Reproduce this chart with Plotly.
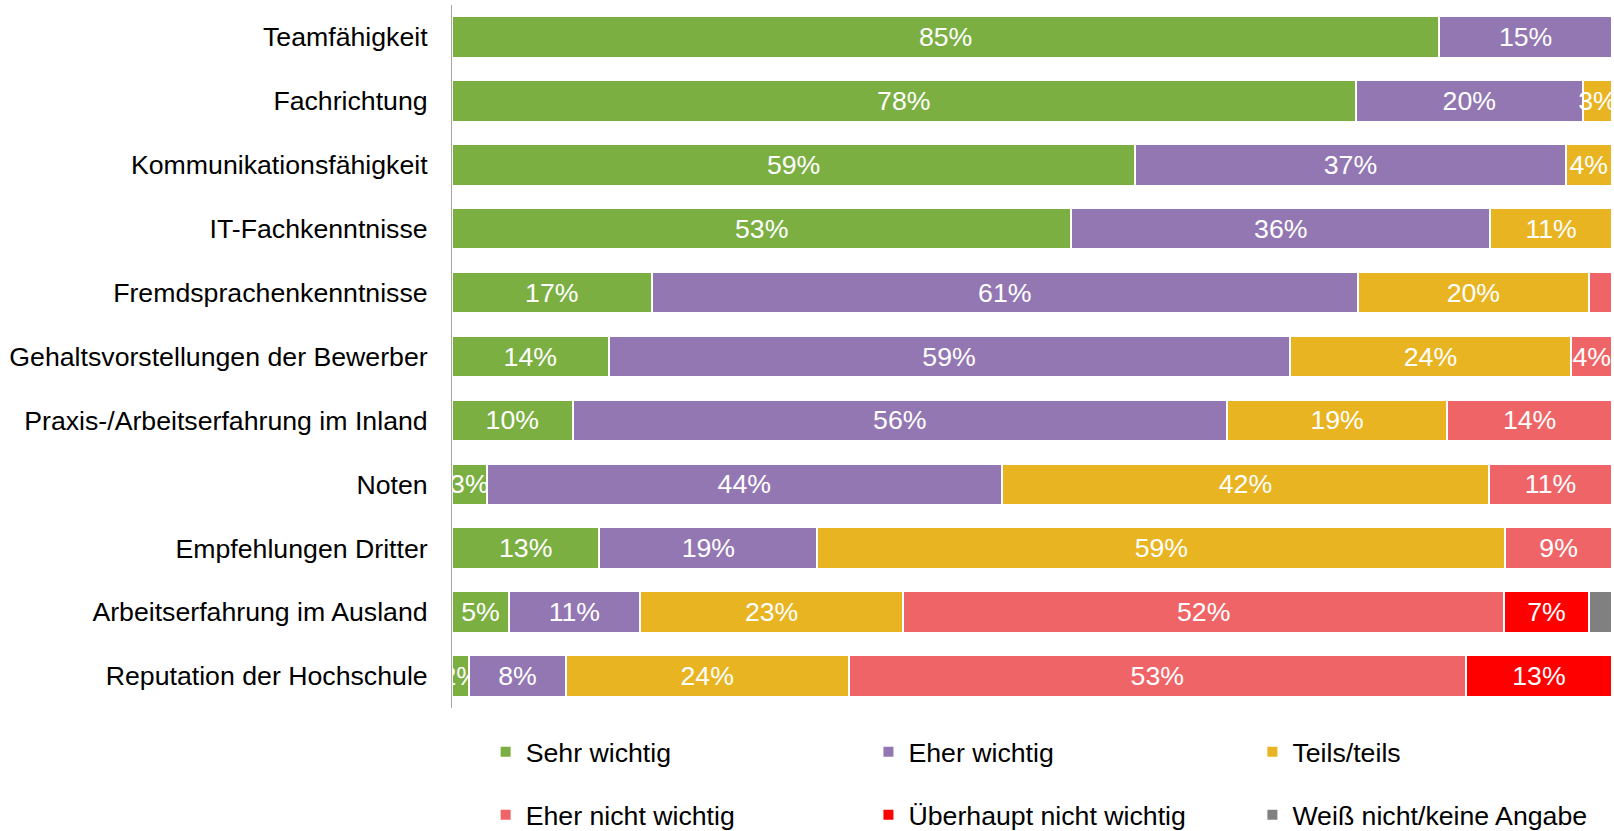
import plotly.graph_objects as go

categories = [
    "Teamfähigkeit",
    "Fachrichtung",
    "Kommunikationsfähigkeit",
    "IT-Fachkenntnisse",
    "Fremdsprachenkenntnisse",
    "Gehaltsvorstellungen der Bewerber",
    "Praxis-/Arbeitserfahrung im Inland",
    "Noten",
    "Empfehlungen Dritter",
    "Arbeitserfahrung im Ausland",
    "Reputation der Hochschule",
]

series_names = [
    "Sehr wichtig",
    "Eher wichtig",
    "Teils/teils",
    "Eher nicht wichtig",
    "Überhaupt nicht wichtig",
    "Weiß nicht/keine Angabe",
]

sehr_wichtig = [85.1, 77.9, 58.9, 53.4, 17.2, 13.5, 10.4, 3.0, 12.7, 4.9, 1.5]
eher_wichtig = [14.9, 19.6, 37.1, 36.1, 60.9, 58.7, 56.4, 44.4, 18.8, 11.3, 8.3]
teils_teils = [0, 2.5, 4.0, 10.5, 19.9, 24.3, 19.0, 42.0, 59.3, 22.7, 24.4]
eher_nicht = [0, 0, 0, 0, 2.0, 3.5, 14.2, 10.6, 9.2, 51.8, 53.2]
ueberhaupt_nicht = [0, 0, 0, 0, 0, 0, 0, 0, 0, 7.3, 12.6]
weiss_nicht = [0, 0, 0, 0, 0, 0, 0, 0, 0, 2.0, 0]

# labels that are not shown in the original (series index, category)
hidden_labels = [
    (3, "Fremdsprachenkenntnisse"),
    (5, "Arbeitserfahrung im Ausland"),
]

colors = ["#7CAF42", "#9377B3", "#E9B421", "#EF6567", "#FF0000", "#808080"]

all_values = [sehr_wichtig, eher_wichtig, teils_teils, eher_nicht, ueberhaupt_nicht, weiss_nicht]

FONT = "Liberation Sans, Arial, sans-serif"
FS = 26.7

# legend grid: 3 columns x 2 rows (paper coordinates)
legend_cols = [0.029, 0.359, 0.690]
legend_rows = [-0.0626, -0.152]

fig = go.Figure()
legend_layout = {}
for i, (name, vals, col) in enumerate(zip(series_names, all_values, colors)):
    texts = []
    for cat, v in zip(categories, vals):
        if v <= 0 or (i, cat) in hidden_labels:
            texts.append("")
        else:
            texts.append(f"{int(v + 0.5)}%")
    lname = "legend" if i == 0 else f"legend{i + 1}"
    fig.add_trace(go.Bar(
        y=categories,
        x=vals,
        name=name,
        orientation="h",
        marker=dict(color=col, line=dict(color="white", width=2)),
        text=texts,
        textposition="inside",
        insidetextanchor="middle",
        textangle=0,
        textfont=dict(color="white", size=FS, family=FONT),
        hoverinfo="skip",
        legend=lname,
        cliponaxis=True,
    ))
    legend_layout[lname] = dict(
        orientation="h",
        xanchor="left",
        yanchor="middle",
        x=legend_cols[i % 3],
        y=legend_rows[i // 3],
        font=dict(size=FS, family=FONT, color="#000000"),
        bgcolor="rgba(0,0,0,0)",
        itemclick=False,
        itemdoubleclick=False,
    )

fig.update_layout(
    width=1614,
    height=831,
    barmode="stack",
    bargap=0.35,
    plot_bgcolor="white",
    paper_bgcolor="white",
    margin=dict(l=452, r=2, t=5, b=123, autoexpand=False),
    font=dict(family=FONT, size=FS, color="#000000"),
    uniformtext=dict(minsize=FS, mode="show"),
    showlegend=True,
    xaxis=dict(
        range=[0, 100],
        visible=False,
        fixedrange=True,
    ),
    yaxis=dict(
        autorange="reversed",
        showline=True,
        linecolor="#A6A6A6",
        linewidth=1,
        ticks="",
        ticklabelstandoff=18,
        tickfont=dict(size=FS, family=FONT, color="#000000"),
        showgrid=False,
        fixedrange=True,
        automargin=False,
    ),
    **legend_layout,
)

fig.write_html(
    "out.html",
    config={"displayModeBar": False},
    post_script="document.body.style.margin='0';document.body.style.padding='0';",
)
